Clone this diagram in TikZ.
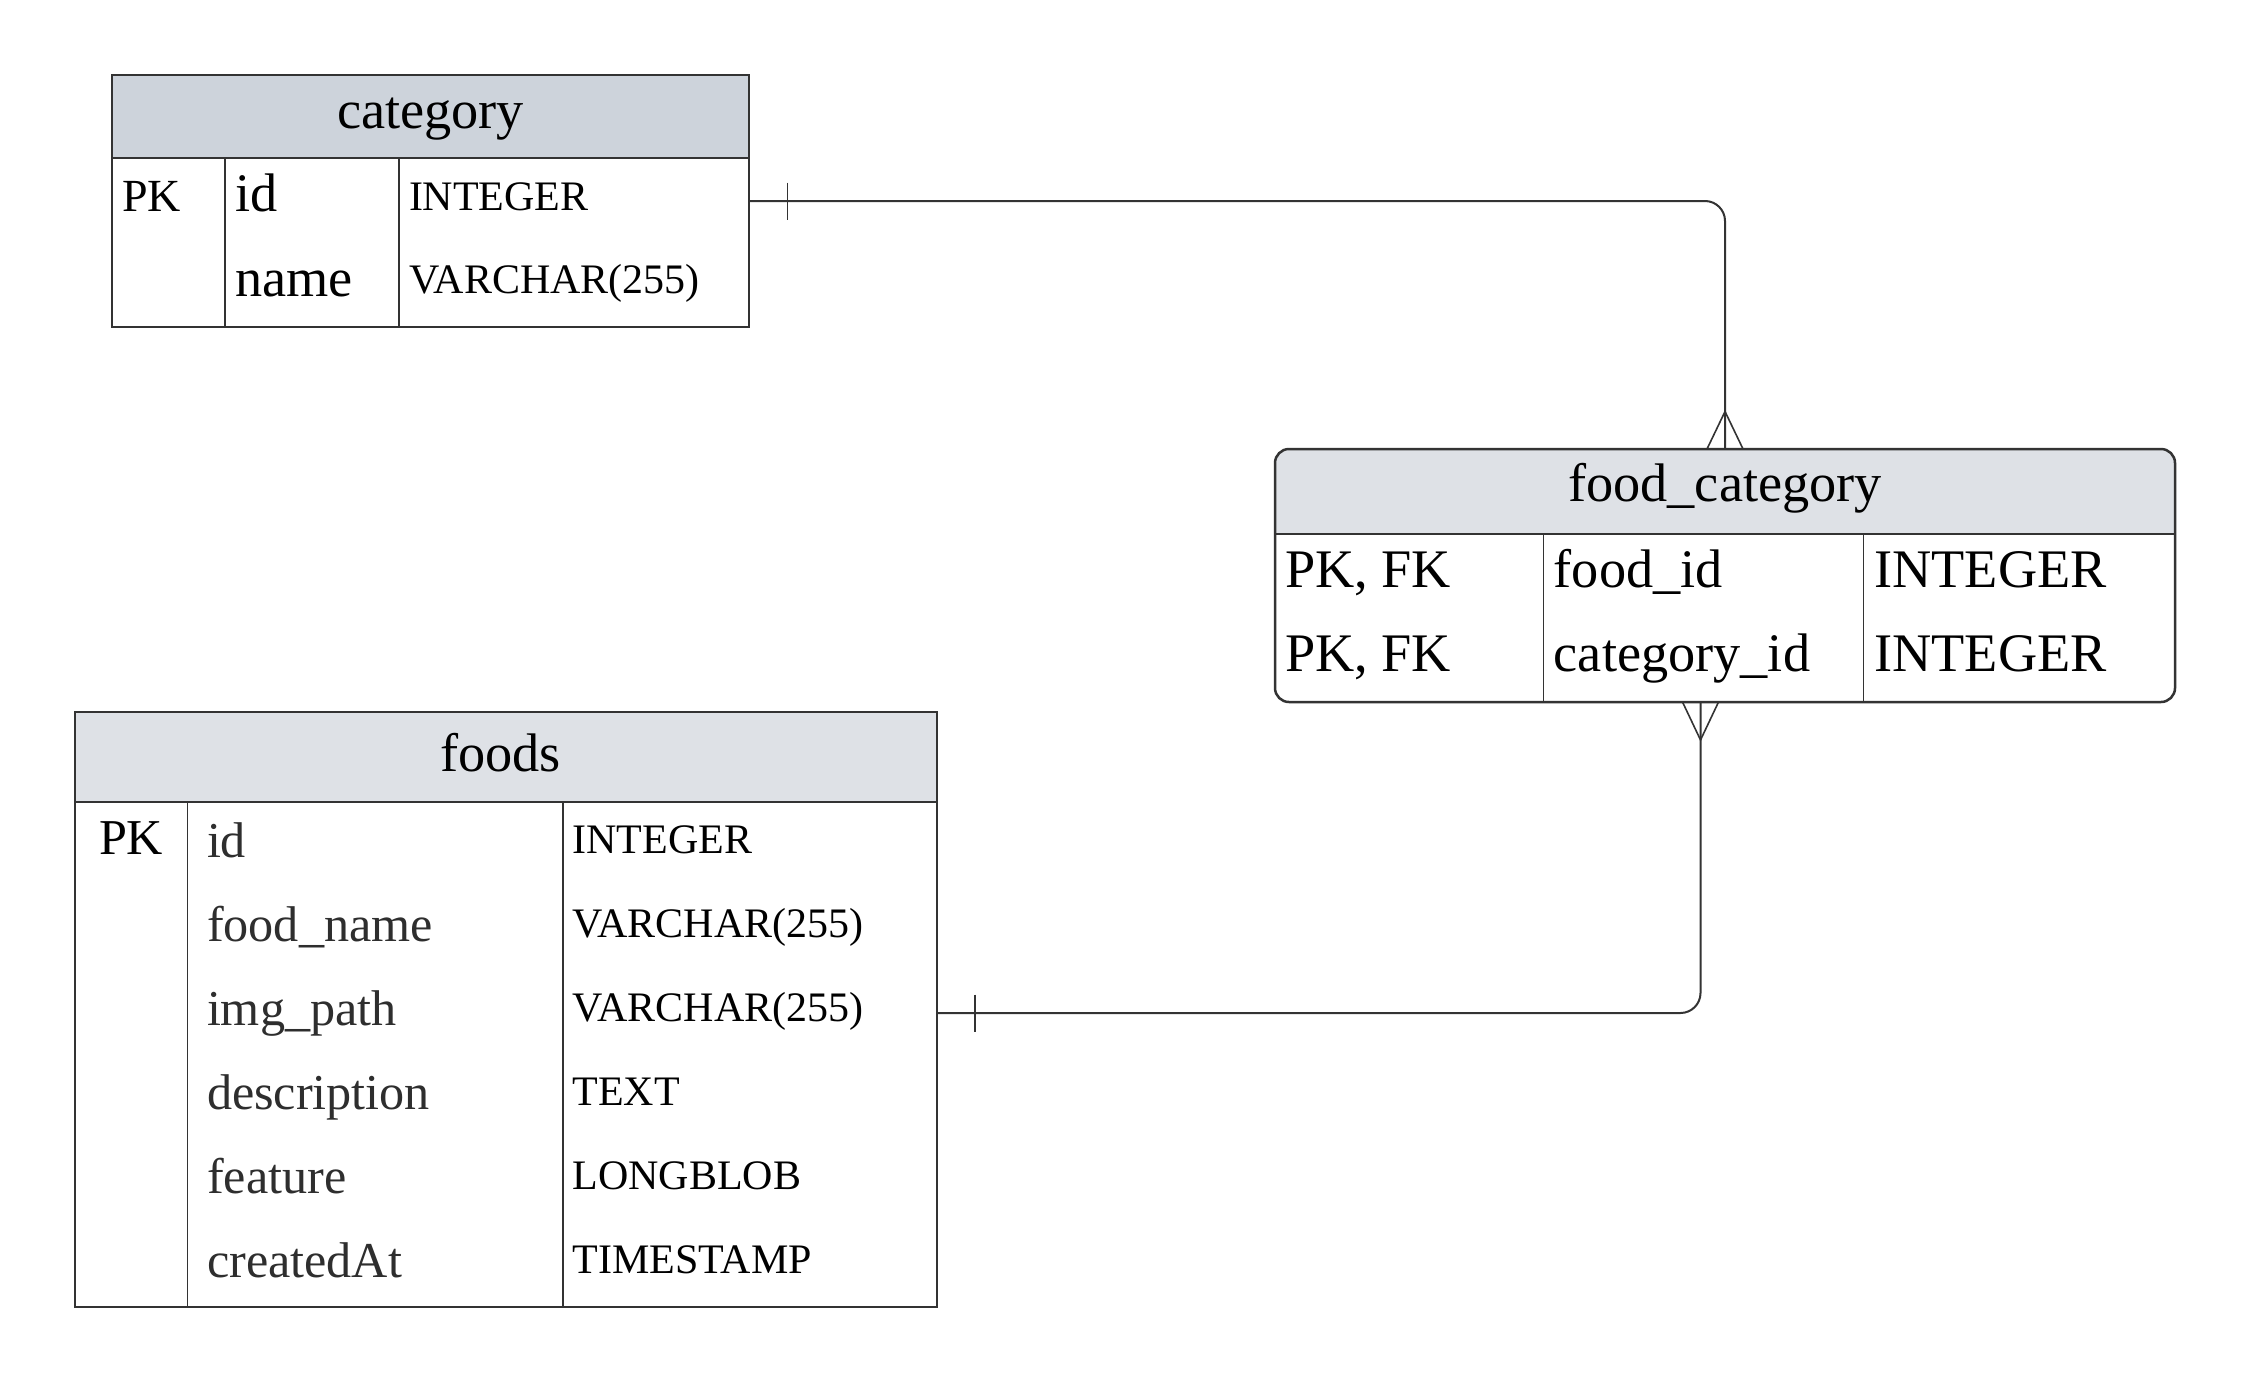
\documentclass[tikz,border=0pt]{standalone}
\usepackage{fontspec}
\setmainfont{Liberation Serif}
\usetikzlibrary{calc}
\definecolor{linec}{HTML}{333333}
\definecolor{cathead}{HTML}{CDD3DB}
\definecolor{lighthead}{HTML}{DEE1E6}
\definecolor{softtext}{HTML}{2E2E2E}
\tikzset{
  tbl/.style={draw=linec, line width=2.5pt, inner sep=0pt, outer sep=0pt},
  divline/.style={draw=linec, line width=1.5pt},
  conn/.style={draw=linec, line width=2pt},
  txt/.style={anchor=base west, inner sep=0pt, outer sep=0pt},
  ttl/.style={anchor=base, inner sep=0pt, outer sep=0pt, font=\fontsize{54.3}{60}\selectfont},
  fbig/.style={font=\fontsize{54.3}{60}\selectfont},
  fmid/.style={font=\fontsize{50.2}{56}\selectfont, text=softtext},
  fsmall/.style={font=\fontsize{42}{48}\selectfont},
  fpk/.style={font=\fontsize{46}{52}\selectfont},
}
\begin{document}
\begin{tikzpicture}[x=1pt,y=-1pt]
\useasboundingbox[fill=white] (0,0) rectangle (2250,1384);

% ---------- category ----------
\fill[cathead] (112,75) rectangle (749,158);
\draw[divline, line width=2pt] (112,158) -- (749,158);
\draw[divline] (225,158) -- (225,327);
\draw[divline] (399,158) -- (399,327);
\node[tbl, minimum width=637pt, minimum height=252pt] (cat) at (430.5,201) {};
\node[ttl] (catT) at (430.5,128) {category};
\node[txt, fpk] (catPK) at (122,211.5) {PK};
\node[txt, fbig] (catA1) at (235,211.5) {id};
\node[txt, fbig] (catA2) at (235,296) {name};
\node[txt, fsmall] (catY1) at (409,210.5) {INTEGER};
\node[txt, fsmall] (catY2) at (409,293.5) {VARCHAR(255)};

% ---------- food_category ----------
\fill[lighthead, rounded corners=14pt] (1275,534) -- (1275,449) -- (2175,449) -- (2175,534);
\draw[divline, line width=2pt] (1275,534) -- (2175,534);
\draw[divline] (1543.6,534) -- (1543.6,702);
\draw[divline] (1863.7,534) -- (1863.7,702);
\node[tbl, rounded corners=14pt, minimum width=900pt, minimum height=253pt] (fc) at (1725,575.5) {};
\node[ttl] (fcT) at (1725,501.7) {food\_category};
\node[txt, fbig] (fcK1) at (1285,587) {PK, FK};
\node[txt, fbig] (fcK2) at (1285,671.7) {PK, FK};
\node[txt, fbig] (fcA1) at (1553.8,587) {food\_id};
\node[txt, fbig] (fcA2) at (1553.8,671.7) {category\_id};
\node[txt, fbig] (fcY1) at (1874.5,587) {INTEGER};
\node[txt, fbig] (fcY2) at (1874.5,671.7) {INTEGER};

% ---------- foods ----------
\fill[lighthead] (75,712) rectangle (937,802);
\draw[divline, line width=1.8pt] (75,802) -- (937,802);
\draw[divline, line width=1.2pt] (187.4,802) -- (187.4,1307);
\draw[divline, line width=1.2pt] (562.9,802) -- (562.9,1307);
\node[tbl, line width=2pt, minimum width=862pt, minimum height=595pt] (foods) at (506,1009.5) {};
\node[ttl] (foodsT) at (500.5,771) {foods};
\node[txt, font=\fontsize{50.2}{56}\selectfont] (fPK) at (99,854.7) {PK};
\node[txt, fmid] (fA1) at (207,857) {id};
\node[txt, fmid] (fA2) at (207,941) {food\_name};
\node[txt, fmid] (fA3) at (207,1025) {img\_path};
\node[txt, fmid] (fA4) at (207,1109) {description};
\node[txt, fmid] (fA5) at (207,1193) {feature};
\node[txt, fmid] (fA6) at (207,1277) {createdAt};
\node[txt, fsmall] (fY1) at (572.6,853) {INTEGER};
\node[txt, fsmall] (fY2) at (572.6,937) {VARCHAR(255)};
\node[txt, fsmall] (fY3) at (572.6,1021) {VARCHAR(255)};
\node[txt, fsmall] (fY4) at (572.6,1105) {TEXT};
\node[txt, fsmall] (fY5) at (572.6,1189) {LONGBLOB};
\node[txt, fsmall] (fY6) at (572.6,1273) {TIMESTAMP};

% ---------- connectors ----------
% category (one) -> food_category (many)
\draw[conn, rounded corners=20pt] (cat.east) -| (fc.north);
\draw[conn, line width=1.3pt] ($(cat.east)+(38.5,-18.5)$) -- ($(cat.east)+(38.5,18.5)$);
\draw[conn, line width=1.6pt] ($(fc.north)+(-18,0)$) -- ($(fc.north)+(0,-37.5)$) -- ($(fc.north)+(18,0)$);

% foods (one) -> food_category (many)
\coordinate (fEnd) at ($(foods.east)+(0,3.5)$);
\coordinate (fcEnd) at ($(fc.south)+(-24.5,0)$);
\draw[conn, rounded corners=20pt] (fEnd) -| (fcEnd);
\draw[conn, line width=1.3pt] ($(fEnd)+(38,-18.5)$) -- ($(fEnd)+(38,18.5)$);
\draw[conn, line width=1.6pt] ($(fcEnd)+(-18,0)$) -- ($(fcEnd)+(0,38)$) -- ($(fcEnd)+(18,0)$);
\end{tikzpicture}
\end{document}
